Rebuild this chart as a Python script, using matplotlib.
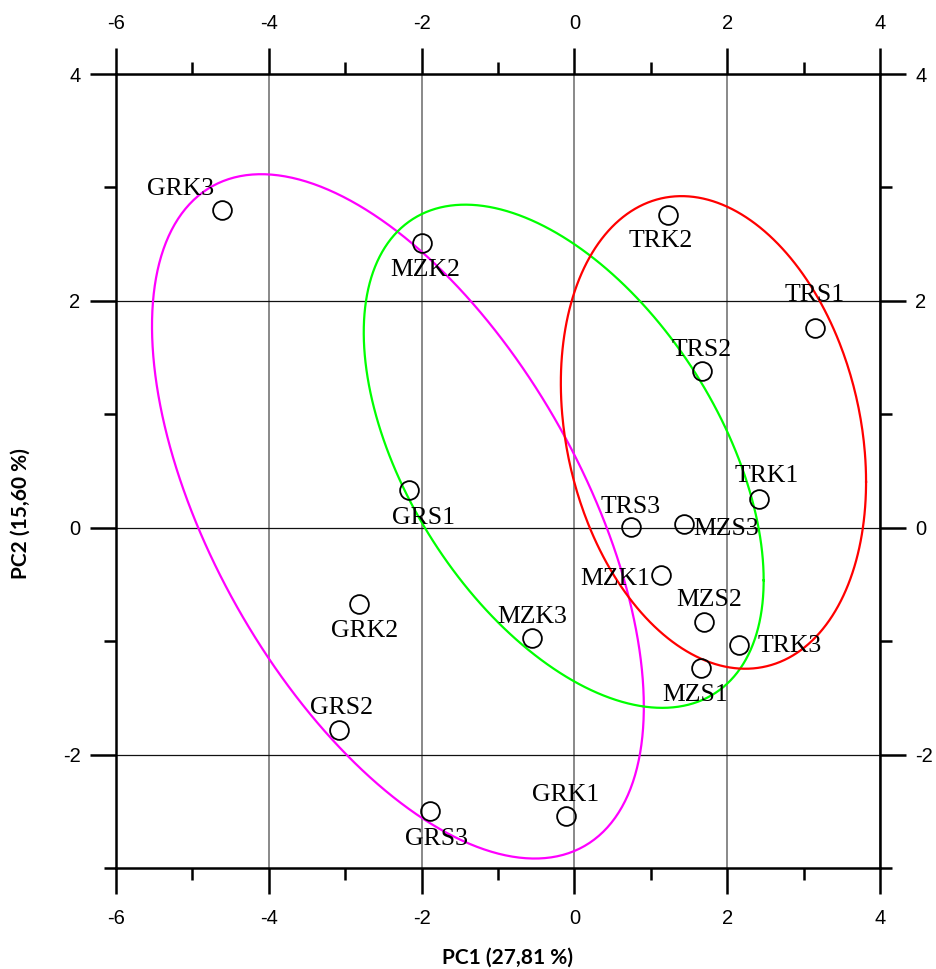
import numpy as np
import matplotlib.pyplot as plt
from matplotlib.ticker import MultipleLocator

plt.rcParams['axes.unicode_minus'] = False

# sample scores on the first two principal components
names = ["GRK1", "GRK2", "GRK3", "GRS1", "GRS2", "GRS3",
         "MZK1", "MZK2", "MZK3", "MZS1", "MZS2", "MZS3",
         "TRK1", "TRK2", "TRK3", "TRS1", "TRS2", "TRS3"]
pc1 = [-0.11, -2.82, -4.61, -2.17, -3.08, -1.89,
       1.14, -2.00, -0.55, 1.66, 1.70, 1.43,
       2.41, 1.22, 2.15, 3.15, 1.67, 0.74]
pc2 = [-2.54, -0.67, 2.80, 0.33, -1.78, -2.50,
       -0.42, 2.51, -0.97, -1.24, -0.83, 0.03,
       0.25, 2.76, -1.03, 1.76, 1.38, 0.01]

# group ellipses (centre and shape matrix)
groups = ["GR", "MZ", "TR"]
ellipse_center = [(-2.31, 0.10), (-0.14, 0.63), (1.82, 0.84)]
ellipse_shape = [[[10.36, -5.40], [-5.40, 9.10]],
                 [[6.85, -2.86], [-2.86, 4.92]],
                 [[3.99, -0.87], [-0.87, 4.34]]]
group_colors = {"GR": "#ff00ff", "MZ": "#00ff00", "TR": "#ff0000"}

# label placement, pixels from the marker (x right, y up)
label_offset = {
    "GRK3": (-42, 24), "MZK2": (4, -24), "TRK2": (-7, -24),
    "TRS1": (0, 36), "TRS2": (0, 23.5), "TRK1": (8, 26),
    "TRS3": (0, 22), "MZS3": (43, -2), "MZK1": (-46, -1.5),
    "MZS2": (4.5, 24), "TRK3": (51, 1.5), "MZS1": (-6, -24.5),
    "GRS1": (14.5, -25), "GRK2": (5.5, -25), "MZK3": (0, 23),
    "GRS2": (2, 24), "GRS3": (6.5, -25), "GRK1": (0, 23.5),
}

fig = plt.figure(figsize=(9.36, 9.69), dpi=100)
ax = fig.add_axes([116 / 936, 1 - 868 / 969, 764 / 936, 794 / 969])

ax.set_xlim(-6, 4)
ax.set_ylim(-3, 4)
ax.xaxis.set_major_locator(MultipleLocator(2))
ax.xaxis.set_minor_locator(MultipleLocator(1))
ax.yaxis.set_major_locator(MultipleLocator(2))
ax.yaxis.set_minor_locator(MultipleLocator(1))

ax.xaxis.grid(True, color="#808080", lw=1.3)
ax.yaxis.grid(True, color="#111111", lw=0.9)
ax.set_axisbelow(True)

for sp in ax.spines.values():
    sp.set_linewidth(1.8)

ax.tick_params(which="both", direction="out", top=True, right=True,
               labeltop=True, labelright=True, width=1.8, color="k")
ax.tick_params(which="major", length=18.5)
ax.tick_params(axis="x", which="major", pad=11)
ax.tick_params(axis="y", which="major", pad=7)
ax.tick_params(which="minor", length=8.5)
for lab in ax.get_xticklabels() + ax.get_yticklabels():
    lab.set_fontfamily("Liberation Sans")
    lab.set_fontsize(14.5)

# ellipses
t = np.linspace(0, 2 * np.pi, 400)
circle = np.vstack([np.cos(t), np.sin(t)])
for g, c, s in zip(groups, ellipse_center, ellipse_shape):
    L = np.linalg.cholesky(np.array(s))
    pts = np.array(c)[:, None] + L @ circle
    ax.plot(pts[0], pts[1], color=group_colors[g], lw=1.6, zorder=2)

# points
ax.plot(pc1, pc2, "o", mfc="none", mec="k", ms=13.5, mew=1.3, zorder=3)

for n, x, y in zip(names, pc1, pc2):
    dx, dy = label_offset[n]
    ax.annotate(n, (x, y), xytext=(dx, dy - 8.5), textcoords="offset pixels",
                ha="center", va="baseline", family="Liberation Serif",
                fontsize=18.5, zorder=4)

fig.text(508 / 936, 1 - 958 / 969, "PC1 (27,81 %)", ha="center", va="center",
         family="Lato", fontweight="bold", fontsize=15)
fig.text(21 / 936, 1 - 514 / 969, "PC2 (15,60 %)", ha="center", va="center",
         rotation=90, family="Lato", fontweight="bold", fontsize=15)

fig.savefig("out.png", dpi=100)
